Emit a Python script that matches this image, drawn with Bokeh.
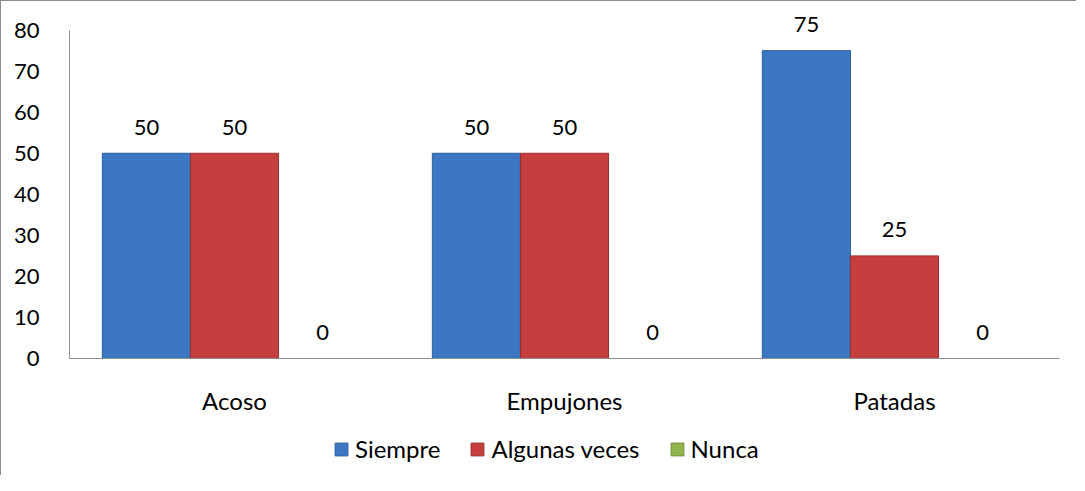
from bokeh.plotting import figure
from bokeh.layouts import column
from bokeh.models import ColumnDataSource, FactorRange, Range1d, Legend, LegendItem
from bokeh.transform import dodge
from bokeh.core.properties import value
from bokeh.embed import file_html
from bokeh.resources import INLINE

categories = ["Acoso", "Empujones", "Patadas"]
series = ["Siempre", "Algunas veces", "Nunca"]
siempre = [50, 50, 75]
algunas = [50, 50, 25]
nunca = [0, 0, 0]
y_ticks = [0, 10, 20, 30, 40, 50, 60, 70, 80]

colors = ["#3b77c3", "#c63e3d", "#92b54e"]
edges = ["#2c5d9b", "#9c2e2e", "#6f8c38"]
BORDER = "1px solid #8c8c8c"
FONT = "Lato"

src = ColumnDataSource(dict(cat=categories, s=siempre, a=algunas, n=nunca,
                            sl=[str(v) for v in siempre],
                            al=[str(v) for v in algunas],
                            nl=[str(v) for v in nunca]))

p = figure(x_range=FactorRange(*categories), y_range=Range1d(0, 86),
           frame_width=989, frame_height=352, output_backend="svg", toolbar_location=None,
           min_border_left=68, min_border_right=18, min_border_top=4, min_border_bottom=60)
p.styles = {"border-left": BORDER, "border-top": BORDER}
p.outline_line_color = None
p.grid.grid_line_color = None

w = 0.267
offs = [-w, 0, w]
cols = ["s", "a", "n"]
lcols = ["sl", "al", "nl"]
for i in range(3):
    p.vbar(x=dodge("cat", offs[i], range=p.x_range), top=cols[i], width=w, source=src,
           fill_color=colors[i], line_color=edges[i], line_width=1)
    p.text(x=dodge("cat", offs[i], range=p.x_range), y=cols[i], text=lcols[i], source=src,
           text_align="center", text_baseline="alphabetic", y_offset=-26,
           text_font=value(FONT), text_font_size="22px", text_color="#000000")

p.yaxis.ticker = y_ticks
p.yaxis.bounds = (0, 80)
p.yaxis.major_tick_line_color = None
p.yaxis.minor_tick_line_color = None
p.yaxis.axis_line_color = "#8c8c8c"
p.yaxis.major_label_standoff = 24
p.yaxis.major_label_text_font = FONT
p.yaxis.major_label_text_font_size = "22px"
p.yaxis.major_label_text_color = "#000000"

p.xaxis.major_tick_line_color = None
p.xaxis.axis_line_color = "#8c8c8c"
p.xaxis.major_label_standoff = 21
p.xaxis.major_label_text_font = FONT
p.xaxis.major_label_text_font_size = "24px"
p.xaxis.major_label_text_color = "#000000"

# legend strip below the chart
q = figure(x_range=p.x_range, y_range=Range1d(1000, 1001),
           frame_width=1075, frame_height=58, output_backend="svg", toolbar_location=None,
           min_border_left=0, min_border_right=0, min_border_top=0, min_border_bottom=0)
q.styles = {"border-left": BORDER}
q.outline_line_color = None
q.grid.grid_line_color = None
q.axis.visible = False
leg_renderers = []
for i in range(3):
    r = q.vbar(x=dodge("cat", offs[i], range=q.x_range), top=cols[i], width=w, source=src,
               fill_color=colors[i], line_color=edges[i], line_width=1)
    leg_renderers.append(r)

legend = Legend(items=[LegendItem(label=series[i], renderers=[leg_renderers[i]]) for i in range(3)],
                orientation="horizontal", location=(332, 12),
                label_text_font=FONT, label_text_font_size="24px", label_text_color="#000000",
                label_height=22, glyph_width=16, glyph_height=16, spacing=29, label_standoff=6,
                border_line_color=None, background_fill_alpha=0, margin=0, padding=0)
q.add_layout(legend, "center")

layout = column(p, q, spacing=0)
open("out.html", "w").write(file_html(layout, INLINE))
